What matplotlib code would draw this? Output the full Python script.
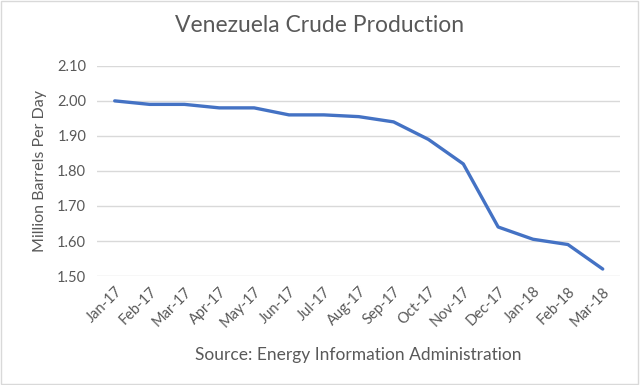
import matplotlib
matplotlib.use("Agg")
import matplotlib.pyplot as plt
from matplotlib.patches import Rectangle

months = ["Jan-17", "Feb-17", "Mar-17", "Apr-17", "May-17", "Jun-17", "Jul-17",
          "Aug-17", "Sep-17", "Oct-17", "Nov-17", "Dec-17", "Jan-18", "Feb-18", "Mar-18"]
production = [2.00, 1.99, 1.99, 1.98, 1.98, 1.96, 1.96, 1.955, 1.94, 1.89, 1.82,
              1.64, 1.605, 1.59, 1.52]
yticks = [1.50, 1.60, 1.70, 1.80, 1.90, 2.00, 2.10]

plt.rcParams['font.family'] = ['Lato', 'DejaVu Sans']
txt = '#595959'

fig = plt.figure(figsize=(6.4, 3.85), dpi=100)
ax = fig.add_axes([0.152, 0.283, 0.817, 0.546])

x = list(range(len(months)))
ax.plot(x, production, color='#4472C4', linewidth=2.4, solid_capstyle='round', zorder=3)
ax.set_xlim(-0.5, len(months) - 0.5)
ax.set_ylim(1.50, 2.10)
ax.set_yticks(yticks)
ax.set_yticklabels([f"{v:.2f}" for v in yticks], color=txt, fontsize=10.5)
ax.set_xticks(x)
ax.set_xticklabels(months, rotation=45, ha='right', rotation_mode='anchor', color=txt, fontsize=10.5)
ax.tick_params(length=0, pad=8)
ax.tick_params(axis='x', pad=6)
ax.grid(axis='y', color='#d9d9d9', linewidth=1)
for s in ['top', 'right', 'left', 'bottom']:
    ax.spines[s].set_visible(False)
ax.set_axisbelow(True)

ax.set_ylabel("Million Barrels Per Day", color=txt, fontsize=11.5, labelpad=7)
ax.set_xlabel("Source: Energy Information Administration", color=txt, fontsize=12.5, labelpad=12)
fig.suptitle("Venezuela Crude Production", color=txt, fontsize=16.5, y=0.96)

fig.patches.append(Rectangle((0.002, 0.003), 0.995, 0.994, transform=fig.transFigure,
                             fill=False, edgecolor='#d9d9d9', linewidth=1))

fig.savefig("out.png", dpi=100)
